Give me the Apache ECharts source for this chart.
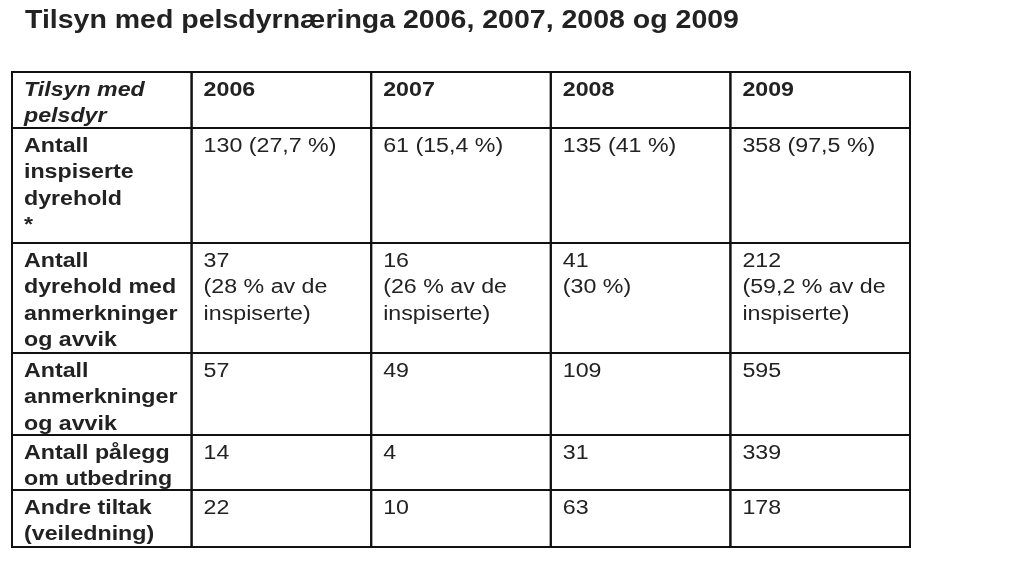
<!DOCTYPE html>
<html><head><meta charset="utf-8">
<script src="https://cdn.jsdelivr.net/npm/echarts@6/dist/echarts.min.js"></script>
<style>html,body{margin:0;background:#fff}#c{width:1024px;height:564px}</style>
</head><body><div id="c"></div>
<script>
const title = 'Tilsyn med pelsdyrnæringa 2006, 2007, 2008 og 2009';
const cornerLabel = 'Tilsyn med\npelsdyr';
const years = ['2006', '2007', '2008', '2009'];
const rowLabels = [
  'Antall\ninspiserte\ndyrehold\n*',
  'Antall\ndyrehold med\nanmerkninger\nog avvik',
  'Antall\nanmerkninger\nog avvik',
  'Antall pålegg\nom utbedring',
  'Andre tiltak\n(veiledning)'
];
const values2006 = ['130 (27,7 %)', '37\n(28 % av de\ninspiserte)', '57', '14', '22'];
const values2007 = ['61 (15,4 %)', '16\n(26 % av de\ninspiserte)', '49', '4', '10'];
const values2008 = ['135 (41 %)', '41\n(30 %)', '109', '31', '63'];
const values2009 = ['358 (97,5 %)', '212\n(59,2 % av de\ninspiserte)', '595', '339', '178'];

// layout: row boundaries in table units
const rowEdges = [0, 56, 171, 281, 363, 418, 475];
const cols = [values2006, values2007, values2008, values2009];

const cells = [];
cells.push([0, 0, cornerLabel, 'corner']);
years.forEach((y, i) => cells.push([i + 1, 0, y, 'head']));
rowLabels.forEach((r, j) => {
  cells.push([0, j + 1, r, 'rowhead']);
  cols.forEach((c, i) => cells.push([i + 1, j + 1, c[j], 'val']));
});

const chart = echarts.init(document.getElementById('c'));
chart.setOption({
  backgroundColor: '#fff',
  graphic: [{type: 'text', left: 25, top: 9, scaleX: 1.14,
    style: {text: title, fontFamily: 'Liberation Sans, Arial', fontSize: 25, fontWeight: 'bold', fill: '#222'}}],
  grid: {left: 12, right: 114, top: 72, bottom: 17},
  xAxis: {type: 'value', min: 0, max: 5, show: false},
  yAxis: {type: 'value', min: 0, max: 475, inverse: true, show: false},
  series: [{
    type: 'custom',
    data: cells,
    renderItem: (params, api) => {
      const c = api.value(0), r = api.value(1);
      const d = cells[params.dataIndex];
      const p0 = api.coord([c, rowEdges[r]]);
      const p1 = api.coord([c + 1, rowEdges[r + 1]]);
      const kind = d[3];
      return {
        type: 'group',
        children: [
          {type: 'rect', shape: {x: p0[0], y: p0[1], width: p1[0] - p0[0], height: p1[1] - p0[1]},
            style: {fill: 'none', stroke: '#111', lineWidth: 2}},
          {type: 'text', x: p0[0] + 12, y: p0[1] + 5, scaleX: 1.16,
            style: {text: d[2], fill: '#222', fontFamily: 'Liberation Sans, Arial', fontSize: 20,
              lineHeight: 26.5,
              fontWeight: kind === 'val' ? 'normal' : 'bold',
              fontStyle: kind === 'corner' ? 'italic' : 'normal',
              textVerticalAlign: 'top'}}
        ]
      };
    }
  }]
});
</script></body></html>
